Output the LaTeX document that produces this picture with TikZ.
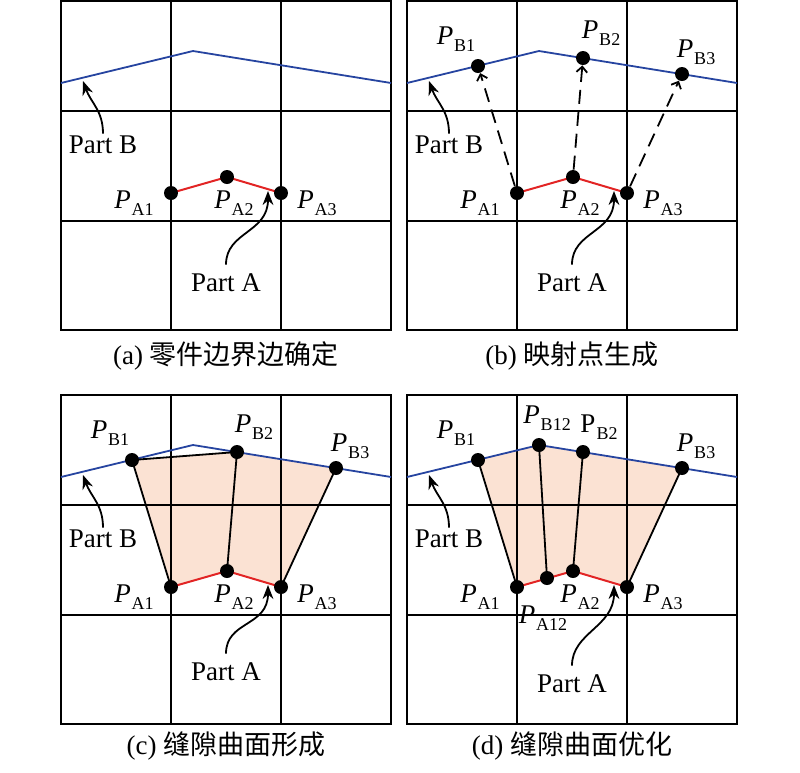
\documentclass[tikz,border=0pt]{standalone}
\usepackage{fontspec}
\setmainfont{Liberation Serif}
\newfontfamily\cjk{Noto Sans CJK SC}
\usepackage{xcolor}
\usetikzlibrary{arrows.meta}

\definecolor{partblue}{RGB}{38,68,160}
\definecolor{partred}{RGB}{226,36,36}
\definecolor{gapfill}{RGB}{251,226,211}

\newcommand{\ptlab}[1]{\textit{P}\kern0.5pt\raisebox{-3.4pt}{\fontsize{9}{9}\selectfont #1}}
\newcommand{\ptlabup}[1]{P\kern0.5pt\raisebox{-3.4pt}{\fontsize{9}{9}\selectfont #1}}

\begin{document}
\begin{tikzpicture}[x=0.5pt,y=-0.5pt,
  gridline/.style={line width=1.1pt},
  ptdot/.style={circle,fill=black,inner sep=0pt,minimum size=7pt},
  lab/.style={font=\fontsize{13.5}{16}\selectfont,inner sep=0pt},
  callout/.style={-{Stealth[length=7pt,width=5.4pt]},line width=0.9pt},
  mapping/.style={dash pattern=on 7pt off 4pt,-{Straight Barb[length=2.8pt,width=5.4pt]},line width=0.9pt},
  seam/.style={line width=0.9pt}]
\useasboundingbox (0,0) rectangle (800,773);

% gap surfaces first, grid goes over them
\begin{scope}[shift={(61,394)}]
\fill[gapfill] (110,193) -- (71,66) -- (176,58) -- (275,74) -- (220,193) -- (166,177) -- cycle;
\end{scope}
\begin{scope}[shift={(407,394)}]
\fill[gapfill] (110,193) -- (71,66) -- (132,51) -- (275,74) -- (220,193) -- (166,177) -- cycle;
\end{scope}

% common part of every panel
\foreach \p/\ox/\oy/\pay in {a/61/0/283, b/407/0/283, c/61/394/278, d/407/394/290} {
\begin{scope}[shift={(\ox,\oy)}]
\draw[gridline] (0,1) rectangle (330,330);
\draw[gridline] (110,1) -- (110,330) (220,1) -- (220,330)
  (0,111) -- (330,111) (0,221) -- (330,221);
\draw[partblue,line width=0.9pt] (0,83) -- (132,51) -- (330,83);
\draw[partred,line width=1pt] (110,193) -- (166,177) -- (220,193);

\node[ptdot] (\p A1) at (110,193) {};
\node[ptdot] (\p A2) at (166,177) {};
\node[ptdot] (\p A3) at (220,193) {};
\node[lab] (\p lA1) at (73,203) {\ptlab{A1}};
\node[lab] (\p lA2) at (173,203) {\ptlab{A2}};
\node[lab] (\p lA3) at (256,203) {\ptlab{A3}};

\node[lab] (\p partB) at (42,145) {Part B};
\coordinate (\p tipB) at (22,81);
\draw[callout,shorten <=1pt] (\p partB.north) .. controls +(0,-25) and +(8,22) .. (\p tipB);

\node[lab] (\p partA) at (165,\pay) {Part A};
\coordinate (\p tipA) at (207,191);
\draw[callout,shorten <=4.5pt] (\p partA.north) .. controls +(0,-42) and +(0,42) .. (\p tipA);
\end{scope}
}

% (b) mapped points
\begin{scope}[shift={(407,0)}]
\node[ptdot] (bB1) at (71,66) {};
\node[ptdot] (bB2) at (176,58) {};
\node[ptdot] (bB3) at (275,74) {};
\node[lab] (blB1) at (49,39) {\ptlab{B1}};
\node[lab] (blB2) at (194,33) {\ptlab{B2}};
\node[lab] (blB3) at (289,52) {\ptlab{B3}};
\draw[mapping] (bA1) -- (bB1);
\draw[mapping] (bA2) -- (bB2);
\draw[mapping] (bA3) -- (bB3);
\end{scope}

% (c) gap surface
\begin{scope}[shift={(61,394)}]
\node[ptdot] (cB1) at (71,66) {};
\node[ptdot] (cB2) at (176,58) {};
\node[ptdot] (cB3) at (275,74) {};
\node[lab] (clB1) at (49,39) {\ptlab{B1}};
\node[lab] (clB2) at (193,33) {\ptlab{B2}};
\node[lab] (clB3) at (289,52) {\ptlab{B3}};
\draw[seam] (cA1.center) -- (cB1.center) -- (cB2.center) -- (cA2.center);
\draw[seam] (cA3.center) -- (cB3.center);
\end{scope}

% (d) optimised gap surface
\begin{scope}[shift={(407,394)}]
\node[ptdot] (dA12) at (140,184) {};
\node[ptdot] (dB1) at (71,66) {};
\node[ptdot] (dB12) at (132,51) {};
\node[ptdot] (dB2) at (176,58) {};
\node[ptdot] (dB3) at (275,74) {};
\node[lab] (dlB1) at (49,39) {\ptlab{B1}};
\node[lab] (dlB12) at (140,24) {\ptlab{B12}};
\node[lab] (dlB2) at (192,33) {\ptlabup{B2}};
\node[lab] (dlB3) at (289,52) {\ptlab{B3}};
\node[lab] (dlA12) at (136,224) {\ptlab{A12}};
\draw[seam] (dA1.center) -- (dB1.center);
\draw[seam] (dA12.center) -- (dB12.center);
\draw[seam] (dA2.center) -- (dB2.center);
\draw[seam] (dA3.center) -- (dB3.center);
\end{scope}

\node[lab] (capa) at (226,356) {(a) {\cjk 零件边界边确定}};
\node[lab] (capb) at (572,356) {(b) {\cjk 映射点生成}};
\node[lab] (capc) at (226,746) {(c) {\cjk 缝隙曲面形成}};
\node[lab] (capd) at (572,746) {(d) {\cjk 缝隙曲面优化}};
\end{tikzpicture}
\end{document}
